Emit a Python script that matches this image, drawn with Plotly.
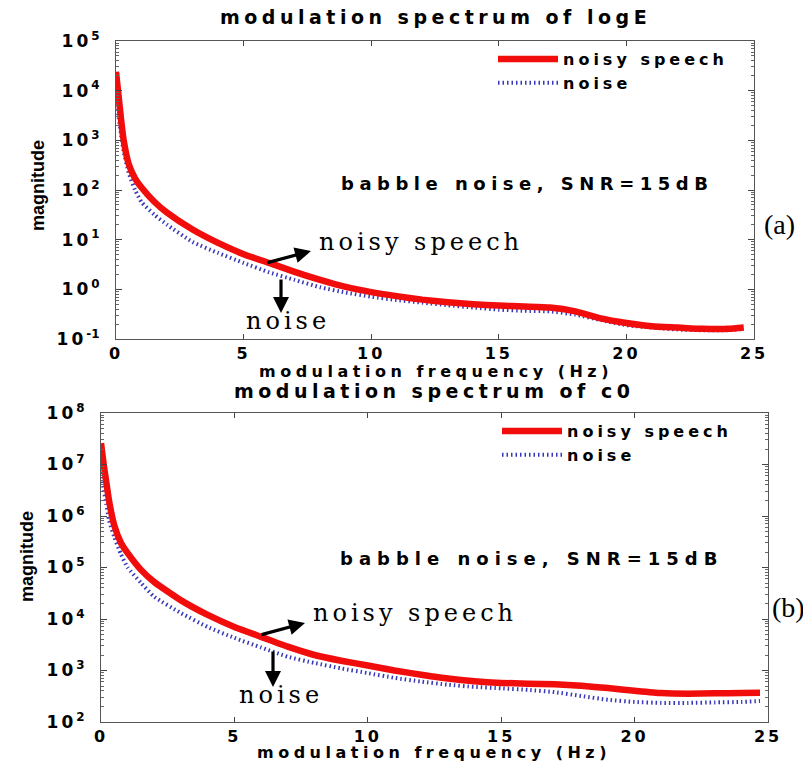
import plotly.graph_objects as go

# ---------------- data ----------------
top_freq = [0, 0.1, 0.2, 0.3, 0.5, 0.75, 1, 1.5, 2, 3, 4, 5, 6, 7, 8, 9, 10, 11, 12,
            13, 14, 15, 16, 17, 18, 19, 20, 21, 22, 23, 24, 24.6]
top_speech = [2.4e4, 8000, 2600, 1000, 330, 170, 112, 58, 35, 16, 8.6, 5.1, 3.4, 2.25,
              1.55, 1.12, 0.88, 0.73, 0.62, 0.55, 0.5, 0.47, 0.45, 0.43, 0.36,
              0.26, 0.21, 0.18, 0.17, 0.16, 0.16, 0.17]
top_noise = [8000, 3000, 1300, 600, 220, 100, 57, 32, 20, 9, 5.4, 3.4, 2.2, 1.55,
             1.1, 0.86, 0.71, 0.61, 0.54, 0.48, 0.43, 0.39, 0.37, 0.36, 0.31,
             0.24, 0.19, 0.17, 0.155, 0.15, 0.15, 0.16]

bot_freq = [0, 0.1, 0.2, 0.3, 0.5, 0.75, 1, 1.5, 2, 3, 4, 5, 6, 7, 8, 9, 10, 11, 12,
            13, 14, 15, 16, 17, 18, 19, 20, 21, 22, 23, 24, 24.7]
bot_speech = [2.6e7, 1e7, 4.5e6, 2e6, 6.5e5, 3e5, 1.9e5, 9e4, 5.2e4, 2.3e4, 1.2e4, 7000,
              4500, 2900, 2000, 1550, 1250, 1000, 830, 700, 620, 575, 555, 540, 505,
              455, 405, 365, 355, 360, 365, 370]
bot_noise = [7e6, 3.3e6, 1.7e6, 8.3e5, 3.9e5, 1.8e5, 1e5, 5e4, 2.7e4, 1.3e4, 7000,
             4300, 2800, 1850, 1400, 1100, 890, 720, 610, 530, 480, 450, 420, 380,
             320, 270, 245, 235, 235, 240, 245, 255]

x_ticks = [0, 5, 10, 15, 20, 25]
top_exps = [-1, 0, 1, 2, 3, 4, 5]
bot_exps = [2, 3, 4, 5, 6, 7, 8]

W, H = 803, 762
RED = "#f20d0d"
BLUE = "#3838b8"
SANS = "DejaVu Sans, Arial, sans-serif"
SANS2 = "Liberation Sans, Arial, sans-serif"
SERIF = "DejaVu Serif, serif"
SERIF2 = "Liberation Serif, Times New Roman, serif"


def sp(text, ls):
    return "<span style='letter-spacing:%spx'>%s</span>" % (ls, text)


def px(x):
    return x / W


def py(y):
    return 1 - y / H


fig = go.Figure()
line_kw = dict(shape="spline", smoothing=0.5)
fig.add_trace(go.Scatter(x=top_freq, y=top_noise, mode="lines", name=sp("noise", 4),
                         line=dict(color=BLUE, width=4, dash="1.5px,3px", **line_kw),
                         xaxis="x", yaxis="y", legend="legend"))
fig.add_trace(go.Scatter(x=top_freq, y=top_speech, mode="lines", name=sp("noisy speech", 4),
                         line=dict(color=RED, width=6.5, **line_kw),
                         xaxis="x", yaxis="y", legend="legend"))
fig.add_trace(go.Scatter(x=bot_freq, y=bot_noise, mode="lines", name=sp("noise", 4),
                         line=dict(color=BLUE, width=4, dash="1.5px,3px", **line_kw),
                         xaxis="x2", yaxis="y2", legend="legend2"))
fig.add_trace(go.Scatter(x=bot_freq, y=bot_speech, mode="lines", name=sp("noisy speech", 4),
                         line=dict(color=RED, width=6.5, **line_kw),
                         xaxis="x2", yaxis="y2", legend="legend2"))

tickfont = dict(family=SANS, size=17, color="black", weight="bold")
xtickfont = dict(family=SANS, size=16, color="black", weight="bold")


def xaxis(domain, anchor):
    return dict(domain=domain, anchor=anchor, range=[0, 25], tickmode="array",
                tickvals=x_ticks, ticktext=[sp(str(v), 3) for v in x_ticks],
                ticks="inside", ticklen=5, tickcolor="#444", mirror="allticks",
                showline=True, linecolor="#555", linewidth=1.2, showgrid=False,
                zeroline=False, tickfont=xtickfont, ticklabelstandoff=0,
                automargin=False)


def yaxis(domain, anchor, exps):
    minor_vals = [m * 10 ** e for e in exps[:-1] for m in range(2, 10)]
    return dict(domain=domain, anchor=anchor, type="log",
                range=[exps[0], exps[-1]], tickmode="array",
                tickvals=[10 ** e for e in exps],
                ticktext=[sp("10", 3) + "<sup>%d</sup>" % e for e in exps],
                ticks="inside", ticklen=6, tickcolor="#444", mirror="allticks",
                minor=dict(tickmode="array", tickvals=minor_vals, ticks="inside",
                           ticklen=3, tickcolor="#666", showgrid=False),
                showline=True, linecolor="#555", linewidth=1.2, showgrid=False,
                zeroline=False, tickfont=tickfont, ticklabelstandoff=12,
                automargin=False)


legend_font = dict(family=SANS, size=16, color="black", weight="bold")
fig.update_layout(
    width=W, height=H,
    margin=dict(l=0, r=0, t=0, b=0, autoexpand=False),
    paper_bgcolor="white", plot_bgcolor="white",
    showlegend=True,
    xaxis=xaxis([px(116), px(754)], "y"),
    yaxis=yaxis([py(339), py(41)], "x", top_exps),
    xaxis2=xaxis([px(101), px(768)], "y2"),
    yaxis2=yaxis([py(722), py(413)], "x2", bot_exps),
    legend=dict(x=px(493), y=py(42), xanchor="left", yanchor="top",
                bgcolor="rgba(0,0,0,0)", borderwidth=0, itemwidth=60,
                font=legend_font, traceorder="reversed", tracegroupgap=0),
    legend2=dict(x=px(497), y=py(414), xanchor="left", yanchor="top",
                 bgcolor="rgba(0,0,0,0)", borderwidth=0, itemwidth=60,
                 font=legend_font, traceorder="reversed", tracegroupgap=0),
)

ann = []


def text(x, y, t, size, family=SANS, bold=True, ls=0, angle=0):
    ann.append(dict(xref="paper", yref="paper", x=px(x), y=py(y), text=sp(t, ls) if ls else t,
                    showarrow=False, xanchor="center", yanchor="middle", textangle=angle,
                    font=dict(family=family, size=size, color="black",
                              weight="bold" if bold else "normal")))


def arrow(x0, y0, x1, y1):
    ann.append(dict(xref="paper", yref="paper", x=px(x1), y=py(y1), ax=x0 - x1, ay=y0 - y1,
                    axref="pixel", ayref="pixel", text="", showarrow=True,
                    arrowhead=2, arrowsize=1, arrowwidth=3.2, arrowcolor="black"))


# titles and axis labels
text(436, 17, "modulation spectrum of logE", 19, ls=4.5)
text(436, 371, "modulation frequency (Hz)", 16, ls=4.5)
text(434, 391, "modulation spectrum of c0", 19, ls=4.5)
text(434, 752, "modulation frequency (Hz)", 16, ls=4.5)
text(38, 186, "magnitude", 18, family=SANS2, angle=-90)
text(27, 557, "magnitude", 18, family=SANS2, angle=-90)

# in-plot labels
text(527, 183, "babble noise, SNR=15dB", 18, ls=5.5)
text(531, 558, "babble noise, SNR=15dB", 18, ls=6)
text(421, 242, "noisy speech", 24, family=SERIF, bold=False, ls=4)
text(288, 321, "noise", 24, family=SERIF, bold=False, ls=4)
text(415, 613, "noisy speech", 24, family=SERIF, bold=False, ls=4)
text(281, 695, "noise", 24, family=SERIF, bold=False, ls=4)
text(779, 225, "(a)", 28, family=SERIF2, bold=False)
text(788, 607, "(b)", 28, family=SERIF2, bold=False)

arrow(266, 263, 311, 251)
arrow(281, 278, 281, 313)
arrow(260, 635, 305, 623)
arrow(273, 650, 273, 687)

fig.update_layout(annotations=ann)
fig.write_html("out.html", config={"displayModeBar": False},
               post_script="document.body.style.margin='0px';")
